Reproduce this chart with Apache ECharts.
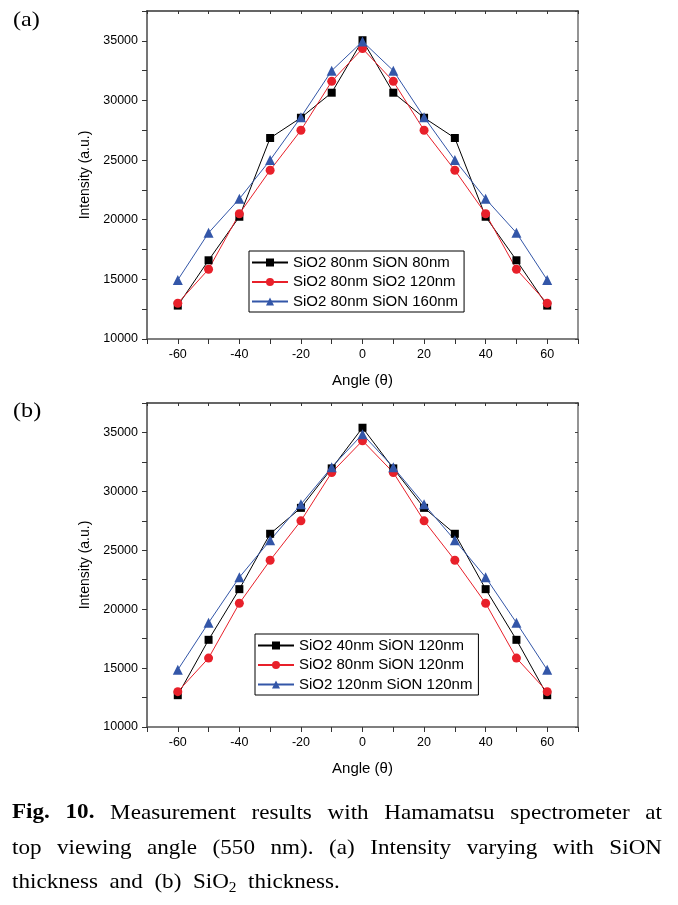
<!DOCTYPE html>
<html>
<head>
<meta charset="utf-8">
<script src="https://cdn.jsdelivr.net/npm/echarts@6/dist/echarts.min.js"></script>
<style>
html,body{margin:0;padding:0;background:#fff;}
#chart{width:678px;height:905px;}
</style>
</head>
<body>
<div id="chart"></div>
<script>
// ---- data ----
const angles = [-60, -50, -40, -30, -20, -10, 0, 10, 20, 30, 40, 50, 60];

const namesA = ['SiO2 80nm SiON 80nm', 'SiO2 80nm SiO2 120nm', 'SiO2 80nm SiON 160nm'];
const aBlack = [12800, 16600, 20250, 26850, 28550, 30650, 35050, 30650, 28550, 26850, 20250, 16600, 12800];
const aRed   = [13000, 15850, 20500, 24150, 27500, 31600, 34350, 31600, 27500, 24150, 20500, 15850, 13000];
const aBlue  = [14950, 18900, 21750, 25000, 28600, 32500, 34950, 32500, 28600, 25000, 21750, 18900, 14950];

const namesB = ['SiO2 40nm SiON 120nm', 'SiO2 80nm SiON 120nm', 'SiO2 120nm SiON 120nm'];
const bBlack = [12700, 17400, 21700, 26400, 28600, 31950, 35400, 31950, 28600, 26400, 21700, 17400, 12700];
const bRed   = [13000, 15850, 20500, 24150, 27500, 31600, 34300, 31600, 27500, 24150, 20500, 15850, 13000];
const bBlue  = [14850, 18850, 22700, 25850, 28900, 32050, 34850, 32050, 28900, 25850, 22700, 18850, 14850];

const xAxisName = 'Angle (\u03B8)';
const yAxisName = 'Intensity (a.u.)';
const panelLabels = ['(a)', '(b)'];
const captionLines = [
  [{t:'Fig.', b:true}, {t:'10.', b:true}, 'Measurement', 'results', 'with', 'Hamamatsu', 'spectrometer', 'at'],
  ['top', 'viewing', 'angle', '(550', 'nm).', '(a)', 'Intensity', 'varying', 'with', 'SiON']
];

// ---- style ----
const SANS = '"Liberation Sans", Arial, sans-serif';
const SERIF = '"Liberation Serif", "Times New Roman", serif';
const BLACK = '#000000', RED = '#e8202a', BLUE = '#3356a8';

function pair(v) { return angles.map((a, i) => [a, v[i]]); }

const grids = [
  {left: 147, top: 11, width: 431, height: 328, outerBoundsMode: 'none', containLabel: false},
  {left: 147, top: 403, width: 431, height: 324, outerBoundsMode: 'none', containLabel: false}
];

function xAxes(gi) {
  return [
    {
      type: 'value', gridIndex: gi, position: 'bottom', min: -70, max: 70, interval: 10,
      name: xAxisName, nameLocation: 'middle', nameGap: 34,
      nameTextStyle: {fontFamily: SANS, fontSize: 15, color: '#000'},
      axisLine: {onZero: false, lineStyle: {color: '#555', width: 1.5}},
      axisTick: {inside: false, length: 5, lineStyle: {color: '#333', width: 1}},
      axisLabel: {margin: 9, fontFamily: SANS, fontSize: 12.5, color: '#000',
        formatter: v => (v % 20 === 0 && Math.abs(v) <= 60) ? String(v) : ''},
      splitLine: {show: false}
    },
    {
      type: 'value', gridIndex: gi, position: 'top', min: -70, max: 70, interval: 10,
      axisLine: {onZero: false, lineStyle: {color: '#333', width: 1.5}},
      axisTick: {inside: true, length: 3, lineStyle: {color: '#333'}},
      axisLabel: {show: false}, splitLine: {show: false}
    }
  ];
}
function yAxes(gi) {
  return [
    {
      type: 'value', gridIndex: gi, position: 'left', min: 10000, max: 37500, interval: 2500,
      name: yAxisName, nameLocation: 'middle', nameGap: 52, nameRotate: 90,
      nameTextStyle: {fontFamily: SANS, fontSize: 14, color: '#000'},
      axisLine: {show: true, onZero: false, lineStyle: {color: '#666', width: 1.8}},
      axisTick: {show: true, inside: false, length: 5, lineStyle: {color: '#333', width: 1}},
      axisLabel: {margin: 9, fontFamily: SANS, fontSize: 12.5, color: '#000',
        formatter: v => (v % 5000 === 0 && v <= 35000) ? String(v) : ''},
      splitLine: {show: false}
    },
    {
      type: 'value', gridIndex: gi, position: 'right', min: 10000, max: 37500, interval: 2500,
      axisLine: {show: true, onZero: false, lineStyle: {color: '#888', width: 1.8}},
      axisTick: {show: true, inside: true, length: 3, lineStyle: {color: '#444'}},
      axisLabel: {show: false}, splitLine: {show: false}
    }
  ];
}

function lineSeries(name, data, color, symbol, size, xi, yi) {
  return {
    type: 'line', name: name, data: pair(data), xAxisIndex: xi, yAxisIndex: yi,
    symbol: symbol, symbolSize: size, showSymbol: true,
    lineStyle: {color: color, width: 1}, itemStyle: {color: color},
    emphasis: {disabled: true}, animation: false
  };
}

function legend(names, left, top) {
  return {
    data: names, orient: 'vertical', left: left, top: top,
    backgroundColor: '#fff', borderColor: '#000', borderWidth: 1,
    padding: [4, 6, 3, 2], itemWidth: 36, itemHeight: 10, itemGap: 4.5,
    textStyle: {fontFamily: SANS, fontSize: 15, color: '#000', lineHeight: 15},
    selectedMode: false
  };
}

// ---- caption layout (justified) ----
const measureCtx = document.createElement('canvas').getContext('2d');
function fontStr(bold, size) { return (bold ? 'bold ' : '') + size + 'px ' + SERIF; }
const CAP_SIZE = 21, CAP_SX = 1.1, CAP_LEFT = 12, CAP_RIGHT = 662;
const capY = [813, 848, 882];
const graphics = [];
captionLines.forEach((words, li) => {
  const ws = words.map(w => typeof w === 'string' ? {t: w, b: false} : w);
  const widths = ws.map(w => { measureCtx.font = fontStr(w.b, CAP_SIZE); return measureCtx.measureText(w.t).width * CAP_SX; });
  const total = widths.reduce((a, b) => a + b, 0);
  const gap = (CAP_RIGHT - CAP_LEFT - total) / (ws.length - 1);
  let x = CAP_LEFT;
  ws.forEach((w, i) => {
    graphics.push({type: 'text', x: x, y: capY[li], scaleX: CAP_SX, style: {text: w.t, font: fontStr(w.b, CAP_SIZE), fill: '#000', verticalAlign: 'middle'}});
    x += widths[i] + gap;
  });
});
// last line with subscript
(function () {
  const parts = [{t: 'thickness  and  (b)  SiO', s: false}, {t: '2', s: true}, {t: '  thickness.', s: false}];
  let x = CAP_LEFT;
  parts.forEach(p => {
    const size = p.s ? 14 : CAP_SIZE;
    measureCtx.font = fontStr(false, size);
    const w = measureCtx.measureText(p.t).width * CAP_SX;
    graphics.push({type: 'text', x: x, y: capY[2] + (p.s ? 6 : 0), scaleX: CAP_SX, style: {text: p.t, font: fontStr(false, size), fill: '#000', verticalAlign: 'middle'}});
    x += w;
  });
})();
graphics.push({type: 'text', x: 13, y: 20, scaleX: 1.1, style: {text: panelLabels[0], font: '22px ' + SERIF, fill: '#000', verticalAlign: 'middle'}});
graphics.push({type: 'text', x: 13, y: 411, scaleX: 1.1, style: {text: panelLabels[1], font: '22px ' + SERIF, fill: '#000', verticalAlign: 'middle'}});

const option = {
  backgroundColor: '#fff',
  animation: false,
  grid: grids,
  xAxis: xAxes(0).concat(xAxes(1)),
  yAxis: yAxes(0).concat(yAxes(1)),
  legend: [legend(namesA, 249, 251), legend(namesB, 255, 634)],
  series: [
    lineSeries(namesA[0], aBlack, BLACK, 'rect', 8, 0, 0),
    lineSeries(namesA[1], aRed, RED, 'circle', 9, 0, 0),
    lineSeries(namesA[2], aBlue, BLUE, 'triangle', 10, 0, 0),
    lineSeries(namesB[0], bBlack, BLACK, 'rect', 8, 2, 2),
    lineSeries(namesB[1], bRed, RED, 'circle', 9, 2, 2),
    lineSeries(namesB[2], bBlue, BLUE, 'triangle', 10, 2, 2)
  ],
  graphic: graphics
};

const chart = echarts.init(document.getElementById('chart'), null, {renderer: 'canvas'});
chart.setOption(option);
</script>
</body>
</html>
